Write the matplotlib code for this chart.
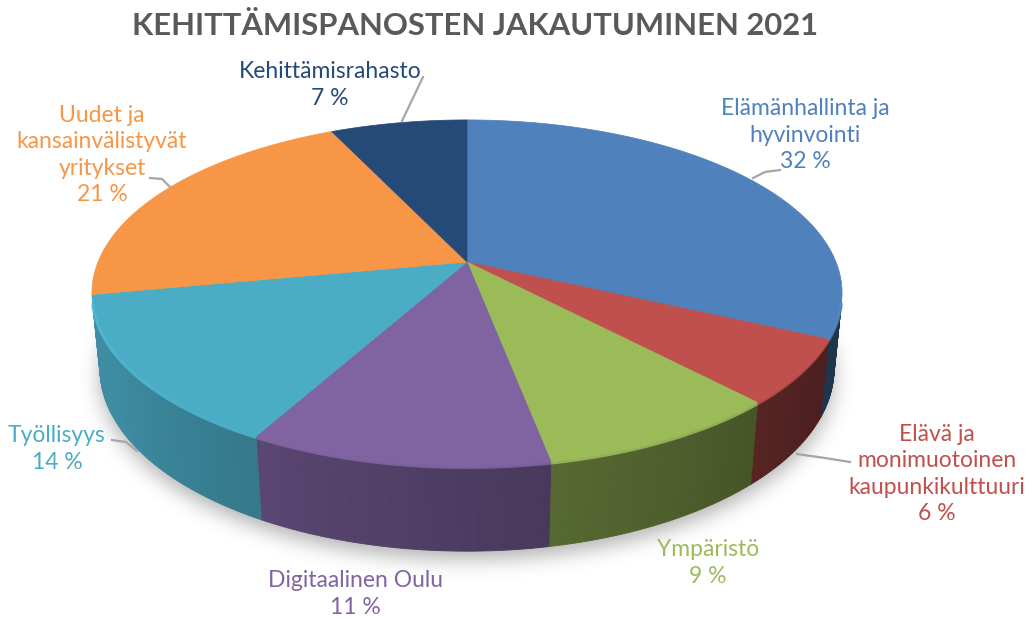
"""
3D pie chart of development investments 2021, drawn with a small
perspective projection on top of plain matplotlib patches.
"""

import numpy as np
import matplotlib.pyplot as plt
from matplotlib.patches import Polygon
from matplotlib.path import Path
from matplotlib.colors import to_rgb

plt.rcParams['font.family'] = ['Lato', 'DejaVu Sans']

title = 'KEHITTÄMISPANOSTEN JAKAUTUMINEN 2021'

categories = [
    'Elämänhallinta ja\nhyvinvointi',
    'Elävä ja\nmonimuotoinen\nkaupunkikulttuuri',
    'Ympäristö',
    'Digitaalinen Oulu',
    'Työllisyys',
    'Uudet ja\nkansainvälistyvät\nyritykset',
    'Kehittämisrahasto',
]
shares = [32, 6, 9, 11, 14, 21, 7]
colors = ['#4f81bd', '#c0504d', '#9bbb59', '#8064a2', '#4bacc6', '#f79646', '#264a78']

# label anchor (pixel) and leader line points, None where no leader is drawn
label_pos = [(805, 135), (937, 474), (708, 563), (355, 594), (57, 449), (102, 155), (330, 85)]
leaders = [
    [(753, 178), (765, 172), (780, 170)],
    [(797, 454), (825, 458), (850, 462)],
    None,
    None,
    [(137, 451), (126, 442), (112, 440)],
    [(170, 187), (162, 179), (150, 178)],
    [(402, 121), (413, 98), (423, 77)],
]

# camera / projection setup (pixels)
CX, CY = 467, 262
S = 369
ELEV = np.radians(27)
P = 0.201      # perspective strength
H = 0.231      # pie thickness
sin_e, cos_e = np.sin(ELEV), np.cos(ELEV)


def project(x, y, z):
    w = 1 + P * (y * cos_e - z * sin_e)
    u = x / w
    v = (y * sin_e + z * cos_e) / w
    return CX + S * u, CY - S * v


def rim(phi, z):
    # phi in degrees, measured clockwise from the back of the pie
    r = np.radians(phi)
    return project(np.sin(r), np.cos(r), z)


def shade(color, f):
    return tuple(np.clip(np.array(to_rgb(color)) * f, 0, 1))


def wall_factor(phi):
    return np.clip(0.6 + 0.0035 * (phi - 180), 0.4, 0.82)


fig = plt.figure(figsize=(10.33, 6.21), dpi=100)
ax = fig.add_axes([0, 0, 1, 1])
ax.set_xlim(0, 1033)
ax.set_ylim(621, 0)
ax.axis('off')

# soft drop shadow under the pie
phis = np.linspace(0, 360, 361)
bx, by = rim(phis, -H)
shadow_path = Path(np.column_stack([bx, by + 8]))
gx, gy = np.meshgrid(np.arange(1033) + 0.5, np.arange(621) + 0.5)
mask = shadow_path.contains_points(np.column_stack([gx.ravel(), gy.ravel()])).reshape(gx.shape)
blur = mask.astype(float)
k = 9
for _ in range(3):
    c = np.cumsum(np.pad(blur, ((0, 0), (k + 1, k))), axis=1)
    blur = (c[:, 2 * k + 1:] - c[:, :-2 * k - 1]) / (2 * k + 1)
    c = np.cumsum(np.pad(blur, ((k + 1, k), (0, 0))), axis=0)
    blur = (c[2 * k + 1:, :] - c[:-2 * k - 1, :]) / (2 * k + 1)
rgba = np.zeros((621, 1033, 4))
rgba[..., :3] = 0.45
rgba[..., 3] = 0.55 * blur
ax.imshow(rgba, extent=(0, 1033, 621, 0), zorder=0, interpolation='bilinear')

total = float(sum(shares))
bounds = np.concatenate([[0], np.cumsum(shares) / total * 360])
vis_lim = -P / cos_e   # outer wall faces the camera where cos(phi) < vis_lim

# outer walls
for i, col in enumerate(colors):
    a, b = bounds[i], bounds[i + 1]
    steps = np.arange(a, b, 0.5)
    steps = np.append(steps, b)
    for p0, p1 in zip(steps[:-1], steps[1:]):
        pm = 0.5 * (p0 + p1)
        if np.cos(np.radians(pm)) >= vis_lim:
            continue
        tx, ty = rim(np.array([p0, p1]), 0)
        lx, ly = rim(np.array([p1, p0]), -H)
        fc = shade(col, wall_factor(pm))
        ax.add_patch(Polygon(np.column_stack([np.r_[tx, lx], np.r_[ty, ly]]),
                             closed=True, facecolor=fc, edgecolor=fc,
                             linewidth=0.6, zorder=2))

# top faces
ox, oy = project(0, 0, 0)
for i, col in enumerate(colors):
    a, b = bounds[i], bounds[i + 1]
    arc = np.linspace(a, b, 200)
    tx, ty = rim(arc, 0)
    xs = np.r_[ox, tx]
    ys = np.r_[oy, ty]
    ax.add_patch(Polygon(np.column_stack([xs, ys]), closed=True,
                         facecolor=col, edgecolor=col, linewidth=0.5, zorder=3))
    # light bevel along the front rim
    front = arc[np.cos(np.radians(arc)) < vis_lim]
    if len(front) > 1:
        fx, fy = rim(front, 0)
        ax.plot(fx, fy + 1.5, color=shade(col, 1.12), linewidth=2.0,
                alpha=0.7, solid_capstyle='butt', zorder=4)

# leader lines and labels
for i, cat in enumerate(categories):
    pts = leaders[i]
    if pts is not None:
        lx, ly = zip(*pts)
        ax.plot(lx, ly, color='#a6a6a6', linewidth=1.6, zorder=5)
    x, y = label_pos[i]
    ax.text(x, y, f'{cat}\n{shares[i]} %', ha='center', va='center',
            multialignment='center', fontsize=16.5, linespacing=1.3,
            color=colors[i], zorder=6)

ax.text(475, 26, title, ha='center', va='center', fontsize=22.3,
        fontweight='bold', color='#595959')

fig.savefig('out.png', dpi=100)
